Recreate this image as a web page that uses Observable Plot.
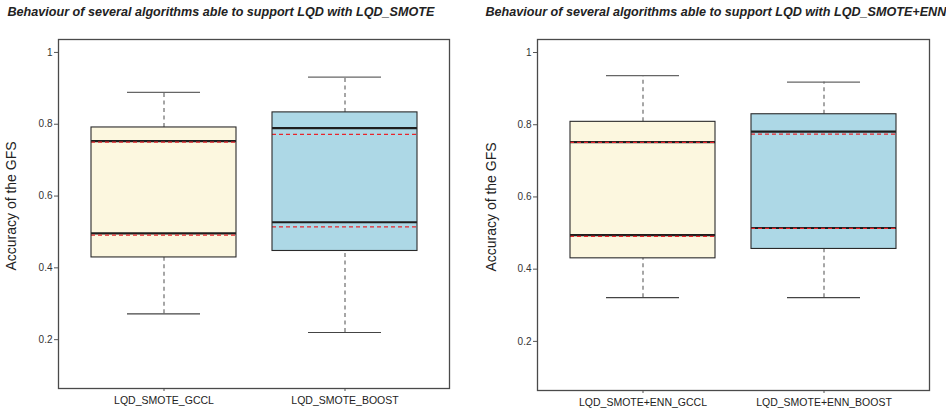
<!DOCTYPE html>
<html>
<head>
<meta charset="utf-8">
<script src="https://cdn.jsdelivr.net/npm/d3@7"></script>
<script src="https://cdn.jsdelivr.net/npm/@observablehq/plot@0.6"></script>
<style>
  html, body { margin: 0; padding: 0; background: #fff; }
  #wrap { display: flex; flex-direction: row; width: 946px; height: 412px; }
  #wrap > div { width: 473px; height: 412px; }
</style>
</head>
<body>
<div id="wrap"><div id="left"></div><div id="right"></div></div>
<script>
// ---- Data ----
const titleLeft = "Behaviour of several algorithms able to support LQD with LQD_SMOTE";
const titleRight = "Behaviour of several algorithms able to support LQD with LQD_SMOTE+ENN";
const yLabel = "Accuracy of the GFS";
const yTicks = [0.2, 0.4, 0.6, 0.8, 1];
const boxFills = ["#fcf7df", "#add8e6"];

// Left panel: LQD_SMOTE
const catsLeft = ["LQD_SMOTE_GCCL", "LQD_SMOTE_BOOST"];
const whiskerLowLeft = [0.272, 0.220];
const q1Left = [0.429, 0.447];
const q3Left = [0.791, 0.833];
const whiskerHighLeft = [0.889, 0.931];
const blackHighLeft = [0.753, 0.789];
const blackLowLeft = [0.496, 0.527];
const redHighLeft = [0.750, 0.772];
const redLowLeft = [0.491, 0.514];

// Right panel: LQD_SMOTE+ENN
const catsRight = ["LQD_SMOTE+ENN_GCCL", "LQD_SMOTE+ENN_BOOST"];
const whiskerLowRight = [0.321, 0.321];
const q1Right = [0.430, 0.456];
const q3Right = [0.808, 0.829];
const whiskerHighRight = [0.936, 0.918];
const blackHighRight = [0.752, 0.781];
const blackLowRight = [0.494, 0.514];
const redHighRight = [0.751, 0.774];
const redLowRight = [0.491, 0.513];

function panel(cfg) {
  const rows = cfg.cats.map((c, i) => ({
    cat: c, lo: cfg.lo[i], q1: cfg.q1[i], q3: cfg.q3[i], hi: cfg.hi[i],
    bHi: cfg.bHi[i], bLo: cfg.bLo[i], rHi: cfg.rHi[i], rLo: cfg.rLo[i]
  }));
  const font = "'Liberation Sans', Arial, Helvetica, sans-serif";
  return Plot.plot({
    width: 473,
    height: 412,
    marginTop: cfg.m[0], marginRight: cfg.m[1], marginBottom: cfg.m[2], marginLeft: cfg.m[3],
    style: { fontFamily: font, background: "#fff", overflow: "visible" },
    x: { type: "band", domain: cfg.cats, paddingInner: 0.2, paddingOuter: 0.18, align: 0.5, axis: null },
    y: { domain: [0.064, 1.036], axis: null },
    color: { domain: cfg.cats, range: boxFills },
    marks: [
      // whiskers
      Plot.ruleX(rows, { x: "cat", y1: "q3", y2: "hi", stroke: "#777", strokeWidth: 1.3, strokeDasharray: "4,3.5" }),
      Plot.ruleX(rows, { x: "cat", y1: "lo", y2: "q1", stroke: "#777", strokeWidth: 1.3, strokeDasharray: "4,3.5" }),
      // whisker caps
      Plot.tickY(rows, { x: "cat", y: "hi", insetLeft: 36, insetRight: 36, stroke: "#666", strokeWidth: 1.3 }),
      Plot.tickY(rows, { x: "cat", y: "lo", insetLeft: 36, insetRight: 36, stroke: "#444", strokeWidth: 1.2 }),
      // boxes
      Plot.barY(rows, { x: "cat", y1: "q1", y2: "q3", fill: "cat" }),
      // black lines
      Plot.tickY(rows, { x: "cat", y: "bHi", stroke: "#1e1e1e", strokeWidth: 2.2 }),
      Plot.tickY(rows, { x: "cat", y: "bLo", stroke: "#1e1e1e", strokeWidth: 2.2 }),
      // red dashed lines
      Plot.tickY(rows, { x: "cat", y: "rHi", stroke: "#e8262c", strokeWidth: 1.3, strokeDasharray: "4,3" }),
      Plot.tickY(rows, { x: "cat", y: "rLo", stroke: "#e8262c", strokeWidth: 1.3, strokeDasharray: "4,3" }),
      // box outline
      Plot.barY(rows, { x: "cat", y1: "q1", y2: "q3", fill: "none", stroke: "#2a2a2a", strokeWidth: 1.1 }),
      // axes
      Plot.axisY({ ticks: yTicks, tickFormat: d => String(d), tickSize: 4, tickPadding: 2, fontSize: 10, stroke: "#555", fill: "#333", label: null }),
      Plot.axisX({ tickSize: 3, tickPadding: 5, fontSize: 10.5, stroke: "#555", fill: "#222", label: null }),
      Plot.frame({ stroke: "#4a4a4a", strokeWidth: 1.3 }),
      // title
      Plot.text([cfg.title], { text: d => d, frameAnchor: "top-left", textAnchor: "start", lineAnchor: "bottom",
        dx: cfg.titleDx, dy: 15 - cfg.m[0], fontSize: 12.6, fontWeight: "bold", fontStyle: "italic", fill: "#222" }),
      // y label
      Plot.text([yLabel], { text: d => d, frameAnchor: "left", rotate: -90, textAnchor: "middle", lineAnchor: "middle",
        dx: cfg.yLabelDx, dy: -8, fontSize: 14, fill: "#222" })
    ]
  });
}

document.getElementById("left").appendChild(panel({
  title: titleLeft, cats: catsLeft,
  lo: whiskerLowLeft, q1: q1Left, q3: q3Left, hi: whiskerHighLeft,
  bHi: blackHighLeft, bLo: blackLowLeft, rHi: redHighLeft, rLo: redLowLeft,
  m: [39, 24, 24, 58], titleDx: -51, yLabelDx: -47
}));
document.getElementById("right").appendChild(panel({
  title: titleRight, cats: catsRight,
  lo: whiskerLowRight, q1: q1Right, q3: q3Right, hi: whiskerHighRight,
  bHi: blackHighRight, bLo: blackLowRight, rHi: redHighRight, rLo: redLowRight,
  m: [39, 17, 22, 64], titleDx: -52, yLabelDx: -46
}));
</script>
</body>
</html>
